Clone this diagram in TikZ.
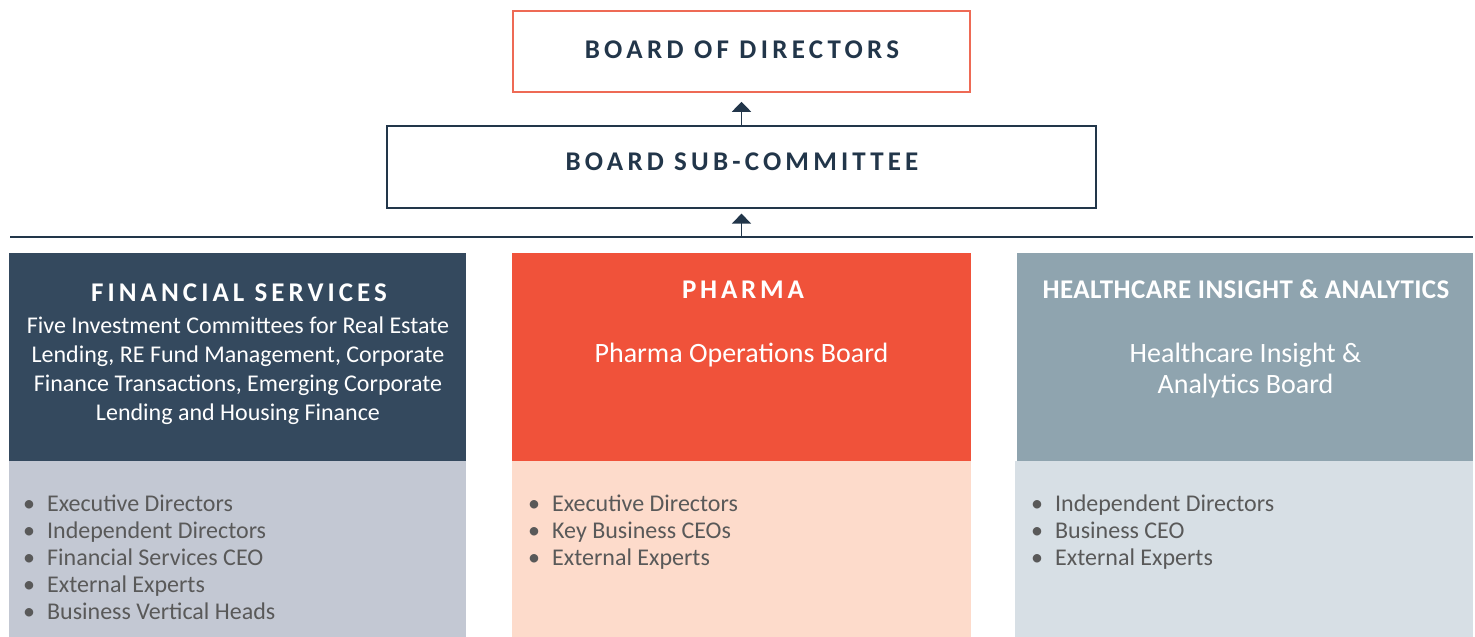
\documentclass[tikz,border=0pt]{standalone}
\usepackage{fontspec}
\setmainfont{Carlito}
\usetikzlibrary{arrows.meta}
\definecolor{navy}{HTML}{22364A}
\definecolor{fsdark}{HTML}{34495E}
\definecolor{fslight}{HTML}{C3C8D3}
\definecolor{phdark}{HTML}{F0523A}
\definecolor{phlight}{HTML}{FDDBCB}
\definecolor{hidark}{HTML}{8FA4AF}
\definecolor{hilight}{HTML}{D7DFE5}
\definecolor{bodred}{HTML}{EE6A55}
\definecolor{bultext}{HTML}{595959}
\tikzset{
  box/.style={draw, line width=1.5pt, fill=white, inner sep=0pt},
  band/.style={draw=none, inner sep=0pt, anchor=north west},
  topttl/.style={text=navy, font=\fontsize{27}{31}\selectfont\bfseries\addfontfeature{LetterSpace=16}},
  colttl/.style={text=white, font=\fontsize{27}{31}\selectfont\bfseries},
  body/.style={text=white, align=center, font=\fontsize{24}{29}\selectfont},
  bul/.style={text=bultext, align=left, anchor=north west, inner sep=0pt, font=\fontsize{24}{27}\selectfont},
  arr/.style={line width=1.6pt, draw=navy, -{Triangle[width=19pt,length=10pt]}},
}
\newcommand{\bl}{\textbullet\hspace{12pt}}
\begin{document}
\begin{tikzpicture}[x=1pt,y=-1pt]
\useasboundingbox (0,0) rectangle (1475,637);
% top boxes
\node[box, draw=bodred, minimum width=457pt, minimum height=81pt] (bod) at (741.5,51.5) {};
\node[topttl] (bodt) at (742,49.5) {BOARD OF DIRECTORS};
\node[box, draw=navy, line width=1.2pt, minimum width=709pt, minimum height=82pt] (sub) at (741.5,167) {};
\node[topttl, font=\fontsize{27}{31}\selectfont\bfseries\addfontfeature{LetterSpace=15.5}] (subt) at (742,161.5) {BOARD SUB-COMMITTEE};
% separator line
\coordinate (ll) at (10,237);
\coordinate (lr) at (1473,237);
\coordinate (lm) at (741.5,237);
\draw[navy, line width=1.5pt] (ll) -- (lr);
\draw[arr] (sub.north) -- ([yshift=-9pt]bod.south);
\draw[arr] (lm) -- ([yshift=-5pt]sub.south);
% Financial services
\node[band, fill=fsdark, minimum width=457pt, minimum height=208pt] (fsh) at (9,253) {};
\node[band, fill=fslight, minimum width=457pt, minimum height=176pt] (fsb) at (9,461) {};
\node[colttl, font=\fontsize{27}{31}\selectfont\bfseries\addfontfeature{LetterSpace=15}] (fst) at (239,292.5) {FINANCIAL SERVICES};
\node[body] (fsx) at (238,371) {Five Investment Committees for Real Estate\\Lending, RE Fund Management, Corporate\\Finance Transactions, Emerging Corporate\\Lending and Housing Finance};
\node[bul] (fsl) at (23,495) {\bl Executive Directors\\\bl Independent Directors\\\bl Financial Services CEO\\\bl External Experts\\\bl Business Vertical Heads};
% Pharma
\node[band, fill=phdark, minimum width=459pt, minimum height=208pt] (phh) at (512,253) {};
\node[band, fill=phlight, minimum width=459pt, minimum height=176pt] (phb) at (512,461) {};
\node[colttl, font=\fontsize{27}{31}\selectfont\bfseries\addfontfeature{LetterSpace=14}] (pht) at (743,289.5) {PHARMA};
\node[body, font=\fontsize{28}{31}\selectfont] (phx) at (741.5,355) {Pharma Operations Board};
\node[bul] (phl) at (528,495) {\bl Executive Directors\\\bl Key Business CEOs\\\bl External Experts};
% Healthcare
\node[band, fill=hidark, minimum width=456pt, minimum height=208pt] (hih) at (1017,253) {};
\node[band, fill=hilight, minimum width=458pt, minimum height=176pt] (hib) at (1015,461) {};
\node[colttl, font=\fontsize{27}{31}\selectfont\bfseries\addfontfeature{LetterSpace=1.5}] (hit) at (1246,289.5) {HEALTHCARE INSIGHT \& ANALYTICS};
\node[body, font=\fontsize{28}{31}\selectfont] (hix) at (1245.5,370.5) {Healthcare Insight \&\\Analytics Board};
\node[bul] (hil) at (1031,495) {\bl Independent Directors\\\bl Business CEO\\\bl External Experts};
\end{tikzpicture}
\end{document}
